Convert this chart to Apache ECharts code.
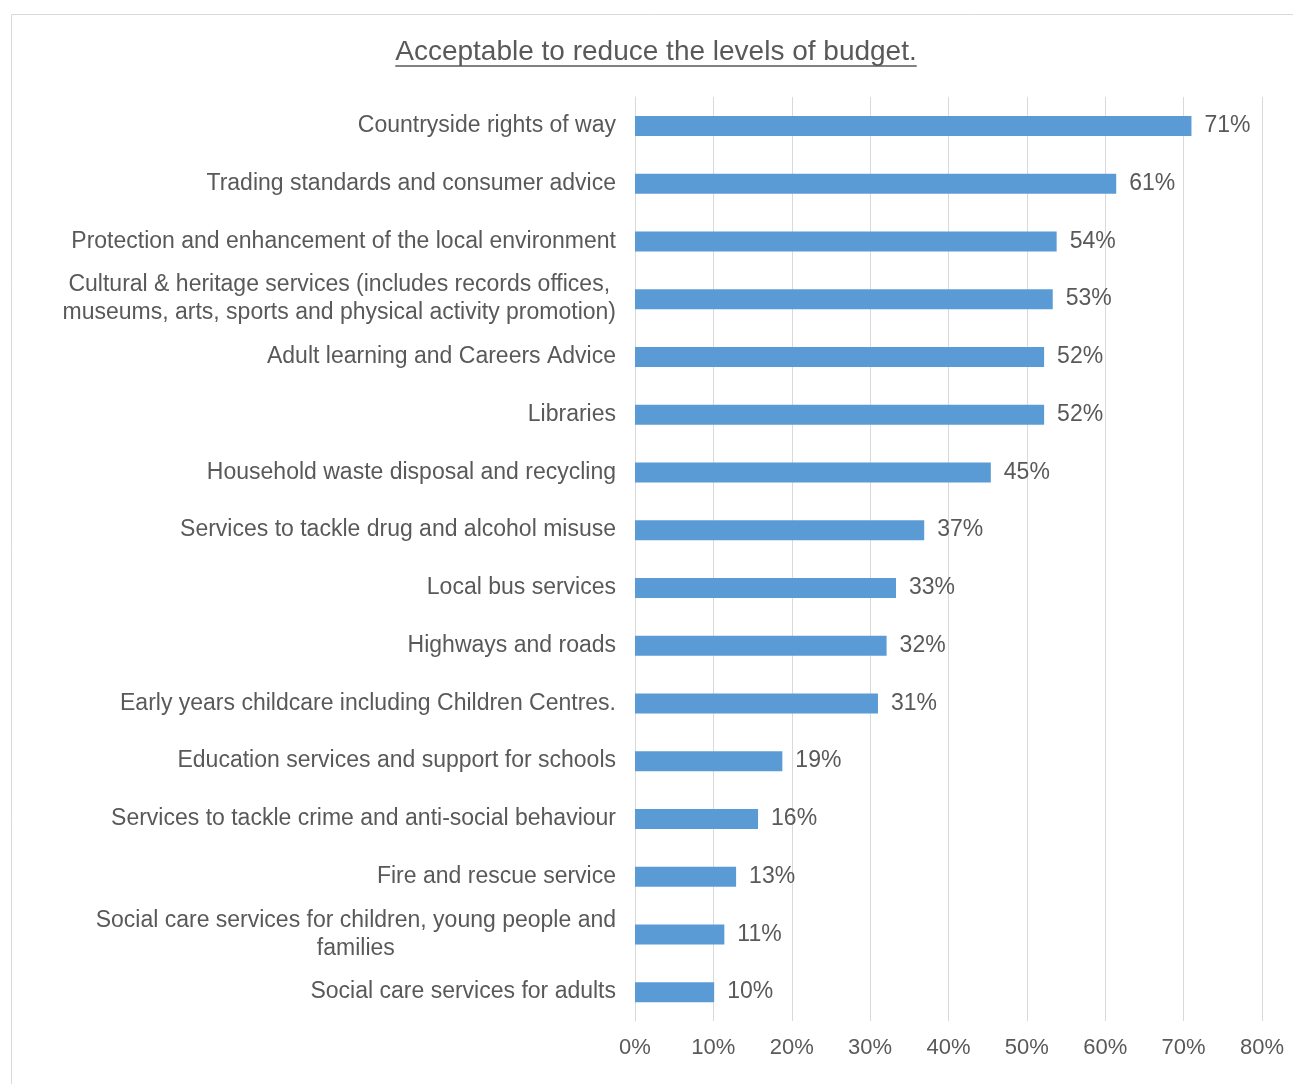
<!DOCTYPE html>
<html>
<head>
<meta charset="utf-8">
<script src="https://cdn.jsdelivr.net/npm/echarts@6/dist/echarts.min.js"></script>
<style>
html,body{margin:0;padding:0;background:#fff;}
#chart{width:1293px;height:1084px;}
</style>
</head>
<body>
<div id="chart"></div>
<script>
const titleText = 'Acceptable to reduce the levels of budget.';

const categories = [
  'Countryside rights of way',
  'Trading standards and consumer advice',
  'Protection and enhancement of the local environment',
  'Cultural & heritage services (includes records offices,\nmuseums, arts, sports and physical activity promotion)',
  'Adult learning and Careers Advice',
  'Libraries',
  'Household waste disposal and recycling',
  'Services to tackle drug and alcohol misuse',
  'Local bus services',
  'Highways and roads',
  'Early years childcare including Children Centres.',
  'Education services and support for schools',
  'Services to tackle crime and anti-social behaviour',
  'Fire and rescue service',
  'Social care services for children, young people and\nfamilies',
  'Social care services for adults'
];

const values = [71.0, 61.4, 53.8, 53.3, 52.2, 52.2, 45.4, 36.9, 33.3, 32.1, 31.0, 18.8, 15.7, 12.9, 11.4, 10.1];

const axisMin = 0;
const axisMax = 80;
const axisInterval = 10;

const FONT = '"Liberation Sans", Arial, sans-serif';
const TEXT = '#595959';

const chart = echarts.init(document.getElementById('chart'));

// measure title width for underline
const mctx = document.createElement('canvas').getContext('2d');
const titleSize = 28;
mctx.font = titleSize + 'px ' + FONT;
const titleW = mctx.measureText(titleText).width;
const titleCx = 656, titleCy = 52;

chart.setOption({
  backgroundColor: '#ffffff',
  animation: false,
  graphic: [
    {
      type: 'rect', z: -10, silent: true,
      shape: {x: 11.5, y: 14.5, width: 1400, height: 1200},
      style: {fill: 'none', stroke: '#d9d9d9', lineWidth: 1}
    },
    {
      type: 'text', silent: true,
      x: titleCx, y: titleCy,
      style: {
        text: titleText, fill: TEXT, font: titleSize + 'px ' + FONT,
        textAlign: 'center', textVerticalAlign: 'middle'
      }
    },
    {
      type: 'line', silent: true,
      shape: {x1: titleCx - titleW / 2, y1: 66, x2: titleCx + titleW / 2, y2: 66},
      style: {stroke: TEXT, lineWidth: 1.5}
    }
  ],
  grid: {left: 635, right: 31, top: 97, bottom: 63, containLabel: false},
  xAxis: {
    type: 'value',
    min: axisMin, max: axisMax, interval: axisInterval,
    axisLine: {show: false},
    axisTick: {show: false},
    splitLine: {show: true, lineStyle: {color: '#d9d9d9', width: 1}},
    axisLabel: {
      formatter: '{value}%', color: TEXT, fontSize: 22, fontFamily: FONT, margin: 16
    }
  },
  yAxis: {
    type: 'category',
    inverse: true,
    data: categories,
    axisLine: {show: true, lineStyle: {color: '#d9d9d9', width: 1}},
    axisTick: {show: false},
    splitLine: {show: false},
    axisLabel: {
      margin: 19,
      interval: 0,
      formatter: function (v) {
        return v.split('\n').map(function (l) { return '{c|' + l + '}'; }).join('\n');
      },
      rich: {
        c: {align: 'center', color: TEXT, fontSize: 23, fontFamily: FONT, lineHeight: 28}
      }
    }
  },
  series: [{
    type: 'bar',
    data: values,
    barWidth: 20,
    itemStyle: {color: '#5b9bd5'},
    label: {
      show: true, position: 'right', distance: 13,
      color: TEXT, fontSize: 23, fontFamily: FONT,
      formatter: function (p) { return Math.round(p.value) + '%'; }
    }
  }]
});
</script>
</body>
</html>
